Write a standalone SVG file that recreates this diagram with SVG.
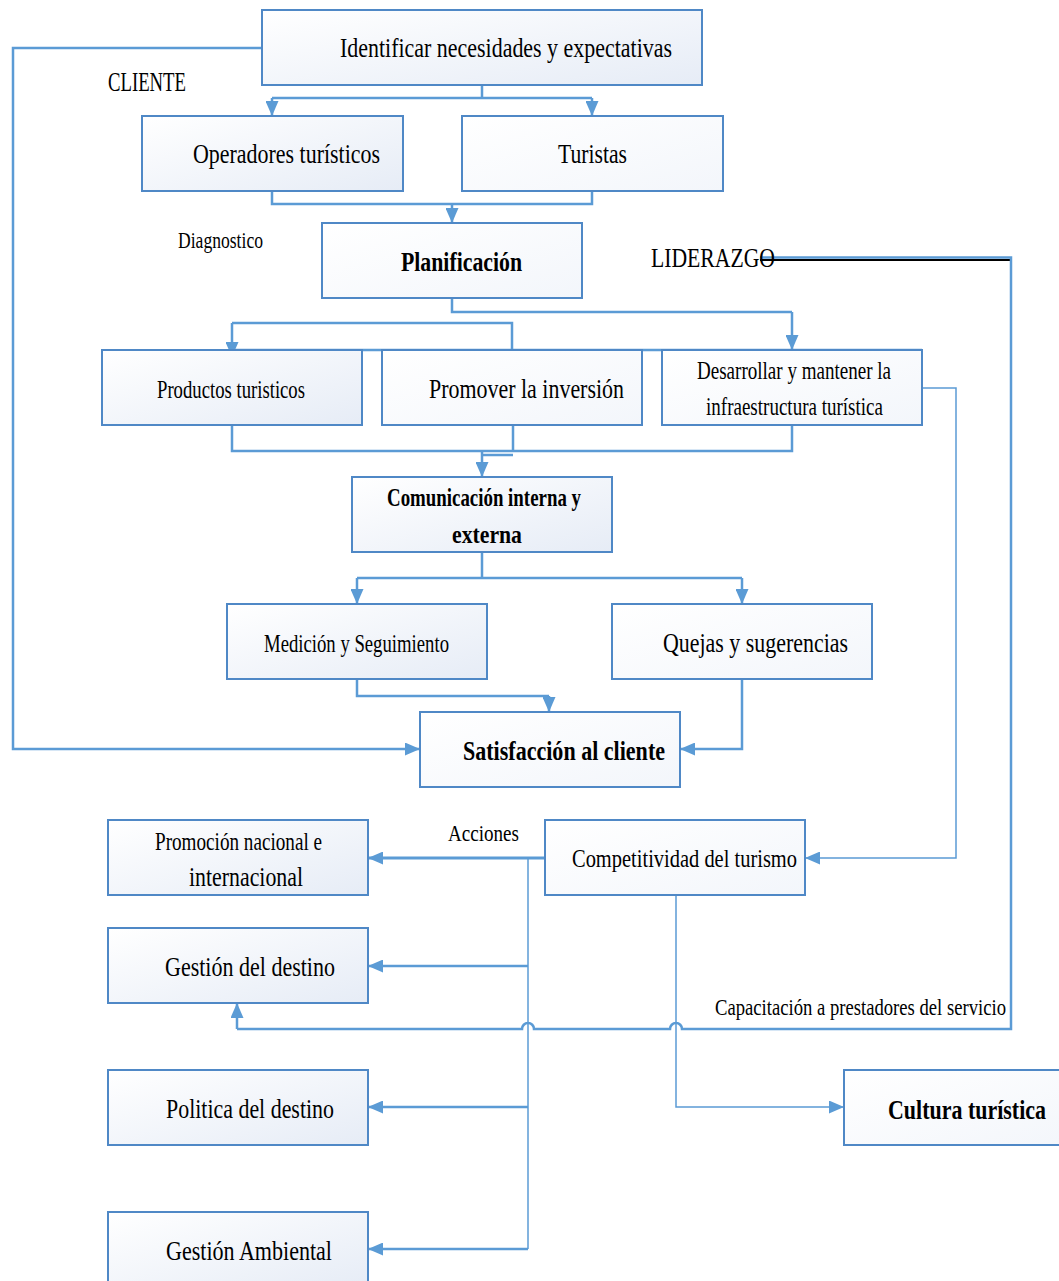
<svg xmlns="http://www.w3.org/2000/svg" width="1059" height="1281" viewBox="0 0 1059 1281">
  <defs>
    <linearGradient id="shade" x1="0" y1="0" x2="1" y2="1">
      <stop offset="0" stop-color="#ffffff"/>
      <stop offset="1" stop-color="#e6ecf6"/>
    </linearGradient>
    <linearGradient id="faint" x1="0" y1="0" x2="1" y2="1">
      <stop offset="0" stop-color="#ffffff"/>
      <stop offset="1" stop-color="#f3f6fb"/>
    </linearGradient>
    <marker id="arrow" viewBox="0 0 10 10" refX="10" refY="5" markerWidth="15" markerHeight="13" markerUnits="userSpaceOnUse" orient="auto" preserveAspectRatio="none">
      <path d="M0,0 L10,5 L0,10 Z" fill="#5b9bd5"/>
    </marker>
  </defs>
  <style>
    .box { stroke: #4f88c6; stroke-width: 2; }
    .shade { fill: url(#shade); }
    .faint { fill: url(#faint); }
    .t { font-family: "Liberation Serif", "Times New Roman", serif; font-size: 28px; fill: #000; }
    .b { font-weight: bold; }
    .m { font-size: 26px; }
    .s { font-size: 24px; }
    .end { text-anchor: end; }
    .line { fill: none; stroke: #5b9bd5; stroke-width: 2.5; }
    .thin { fill: none; stroke: #5b9bd5; stroke-width: 1.5; }
    .heavy { fill: none; stroke: #5b9bd5; stroke-width: 3; }
    .arr { marker-end: url(#arrow); }
  </style>

  <rect width="1059" height="1281" fill="#ffffff"/>

  <!-- connectors -->
  <g id="connectors">
    <!-- cliente loop -->
    <path class="line arr" d="M262,48 H13 V749 H420"/>
    <!-- identificar to operadores / turistas -->
    <path class="line" d="M482,85 V98 M272,98 H592"/>
    <path class="line arr" d="M272,98 V116"/>
    <path class="line arr" d="M592,98 V116"/>
    <!-- operadores / turistas to planificacion -->
    <path class="line" d="M272,191 V204 H592 V191"/>
    <path class="line arr" d="M452,204 V223"/>
    <!-- planificacion to desarrollar -->
    <path class="line" d="M452,298 V312 H792"/>
    <path class="line arr" d="M792,312 V350"/>
    <!-- promover to productos -->
    <path class="line" d="M512,350 V323 H232"/>
    <path class="line arr" d="M232,323 V357"/>
    <path class="line" d="M232,350 H922"/>
    <!-- first row to comunicacion -->
    <path class="line" d="M232,388 V451 H792 V425 M513,425 V451"/>
    <path class="line" d="M482,455 H513"/>
    <path class="line arr" d="M482,451 V477"/>
    <!-- comunicacion to medicion / quejas -->
    <path class="line" d="M482,552 V578 M357,578 H742"/>
    <path class="line arr" d="M357,578 V604"/>
    <path class="line arr" d="M742,578 V604"/>
    <!-- medicion to satisfaccion -->
    <path class="line" d="M357,648 V696 H549"/>
    <path class="line arr" d="M549,696 V712"/>
    <!-- quejas to satisfaccion -->
    <path class="line arr" d="M742,679 V749 H680"/>
    <!-- desarrollar to competitividad -->
    <path class="thin arr" d="M922,388 H956 V858 H805"/>
    <!-- liderazgo loop to gestion del destino -->
    <path d="M760,260 H1011" fill="none" stroke="#000" stroke-width="2"/>
    <path class="line" d="M760,257.5 H1011 V1029 H682 A6,6 0 0 0 670,1029 H534 A6,6 0 0 0 522,1029 H237"/>
    <path class="line arr" d="M237,1029 V1003"/>
    <!-- acciones -->
    <path class="heavy arr" d="M545,858 H368"/>
    <path class="thin" d="M528,858 V1249"/>
    <path class="line arr" d="M528,966 H368"/>
    <path class="line arr" d="M528,1107 H368"/>
    <path class="line arr" d="M528,1249 H368"/>
    <!-- competitividad to cultura -->
    <path class="thin arr" d="M676,895 V1107 H844"/>
  </g>

  <!-- free labels -->
  <g id="labels">
    <text class="t" x="108" y="91" textLength="78" lengthAdjust="spacingAndGlyphs">CLIENTE</text>
    <text class="t s" x="178" y="248" textLength="85" lengthAdjust="spacingAndGlyphs">Diagnostico</text>
    <text class="t" x="651" y="267" textLength="124" lengthAdjust="spacingAndGlyphs">LIDERAZGO</text>
    <text class="t s" x="448" y="841" textLength="71" lengthAdjust="spacingAndGlyphs">Acciones</text>
    <text class="t s end" x="1006" y="1015" textLength="291" lengthAdjust="spacingAndGlyphs">Capacitación a prestadores del servicio</text>
  </g>

  <!-- nodes -->
  <g id="identificar">
    <rect class="box shade" x="262" y="10" width="440" height="75"/>
    <text class="t" x="340" y="57" textLength="332" lengthAdjust="spacingAndGlyphs">Identificar necesidades y expectativas</text>
  </g>
  <g id="operadores">
    <rect class="box shade" x="142" y="116" width="261" height="75"/>
    <text class="t" x="193" y="163" textLength="187" lengthAdjust="spacingAndGlyphs">Operadores turísticos</text>
  </g>
  <g id="turistas">
    <rect class="box faint" x="462" y="116" width="261" height="75"/>
    <text class="t" x="558" y="163" textLength="69" lengthAdjust="spacingAndGlyphs">Turistas</text>
  </g>
  <g id="planificacion">
    <rect class="box faint" x="322" y="223" width="260" height="75"/>
    <text class="t b" x="401" y="271" textLength="121" lengthAdjust="spacingAndGlyphs">Planificación</text>
  </g>
  <g id="productos">
    <rect class="box shade" x="102" y="350" width="260" height="75"/>
    <text class="t m" x="157" y="398" textLength="148" lengthAdjust="spacingAndGlyphs">Productos turisticos</text>
  </g>
  <g id="promover">
    <rect class="box faint" x="382" y="350" width="260" height="75"/>
    <text class="t" x="429" y="398" textLength="195" lengthAdjust="spacingAndGlyphs">Promover la inversión</text>
  </g>
  <g id="desarrollar">
    <rect class="box faint" x="662" y="350" width="260" height="75"/>
    <text class="t m" x="697" y="379" textLength="194" lengthAdjust="spacingAndGlyphs">Desarrollar y mantener la</text>
    <text class="t m" x="706" y="415" textLength="177" lengthAdjust="spacingAndGlyphs">infraestructura turística</text>
  </g>
  <g id="comunicacion">
    <rect class="box shade" x="352" y="477" width="260" height="75"/>
    <text class="t b m" x="387" y="506" textLength="194" lengthAdjust="spacingAndGlyphs">Comunicación interna y</text>
    <text class="t b m" x="452" y="543" textLength="70" lengthAdjust="spacingAndGlyphs">externa</text>
  </g>
  <g id="medicion">
    <rect class="box shade" x="227" y="604" width="260" height="75"/>
    <text class="t m" x="264" y="652" textLength="185" lengthAdjust="spacingAndGlyphs">Medición y Seguimiento</text>
  </g>
  <g id="quejas">
    <rect class="box faint" x="612" y="604" width="260" height="75"/>
    <text class="t" x="663" y="652" textLength="185" lengthAdjust="spacingAndGlyphs">Quejas y sugerencias</text>
  </g>
  <g id="satisfaccion">
    <rect class="box faint" x="420" y="712" width="260" height="75"/>
    <text class="t b" x="463" y="760" textLength="202" lengthAdjust="spacingAndGlyphs">Satisfacción al cliente</text>
  </g>
  <g id="promocion">
    <rect class="box shade" x="108" y="820" width="260" height="75"/>
    <text class="t m" x="155" y="850" textLength="167" lengthAdjust="spacingAndGlyphs">Promoción nacional e</text>
    <text class="t" x="189" y="886" textLength="114" lengthAdjust="spacingAndGlyphs">internacional</text>
  </g>
  <g id="competitividad">
    <rect class="box faint" x="545" y="820" width="260" height="75"/>
    <text class="t m" x="572" y="867" textLength="225" lengthAdjust="spacingAndGlyphs">Competitividad del turismo</text>
  </g>
  <g id="gestion-destino">
    <rect class="box shade" x="108" y="928" width="260" height="75"/>
    <text class="t" x="165" y="976" textLength="170" lengthAdjust="spacingAndGlyphs">Gestión del destino</text>
  </g>
  <g id="politica">
    <rect class="box shade" x="108" y="1070" width="260" height="75"/>
    <text class="t" x="166" y="1118" textLength="168" lengthAdjust="spacingAndGlyphs">Politica del destino</text>
  </g>
  <g id="cultura">
    <rect class="box faint" x="844" y="1070" width="230" height="75"/>
    <text class="t b end" x="1046" y="1119" textLength="158" lengthAdjust="spacingAndGlyphs">Cultura turística</text>
  </g>
  <g id="gestion-ambiental">
    <rect class="box shade" x="108" y="1212" width="260" height="75"/>
    <text class="t" x="166" y="1260" textLength="166" lengthAdjust="spacingAndGlyphs">Gestión Ambiental</text>
  </g>
</svg>
